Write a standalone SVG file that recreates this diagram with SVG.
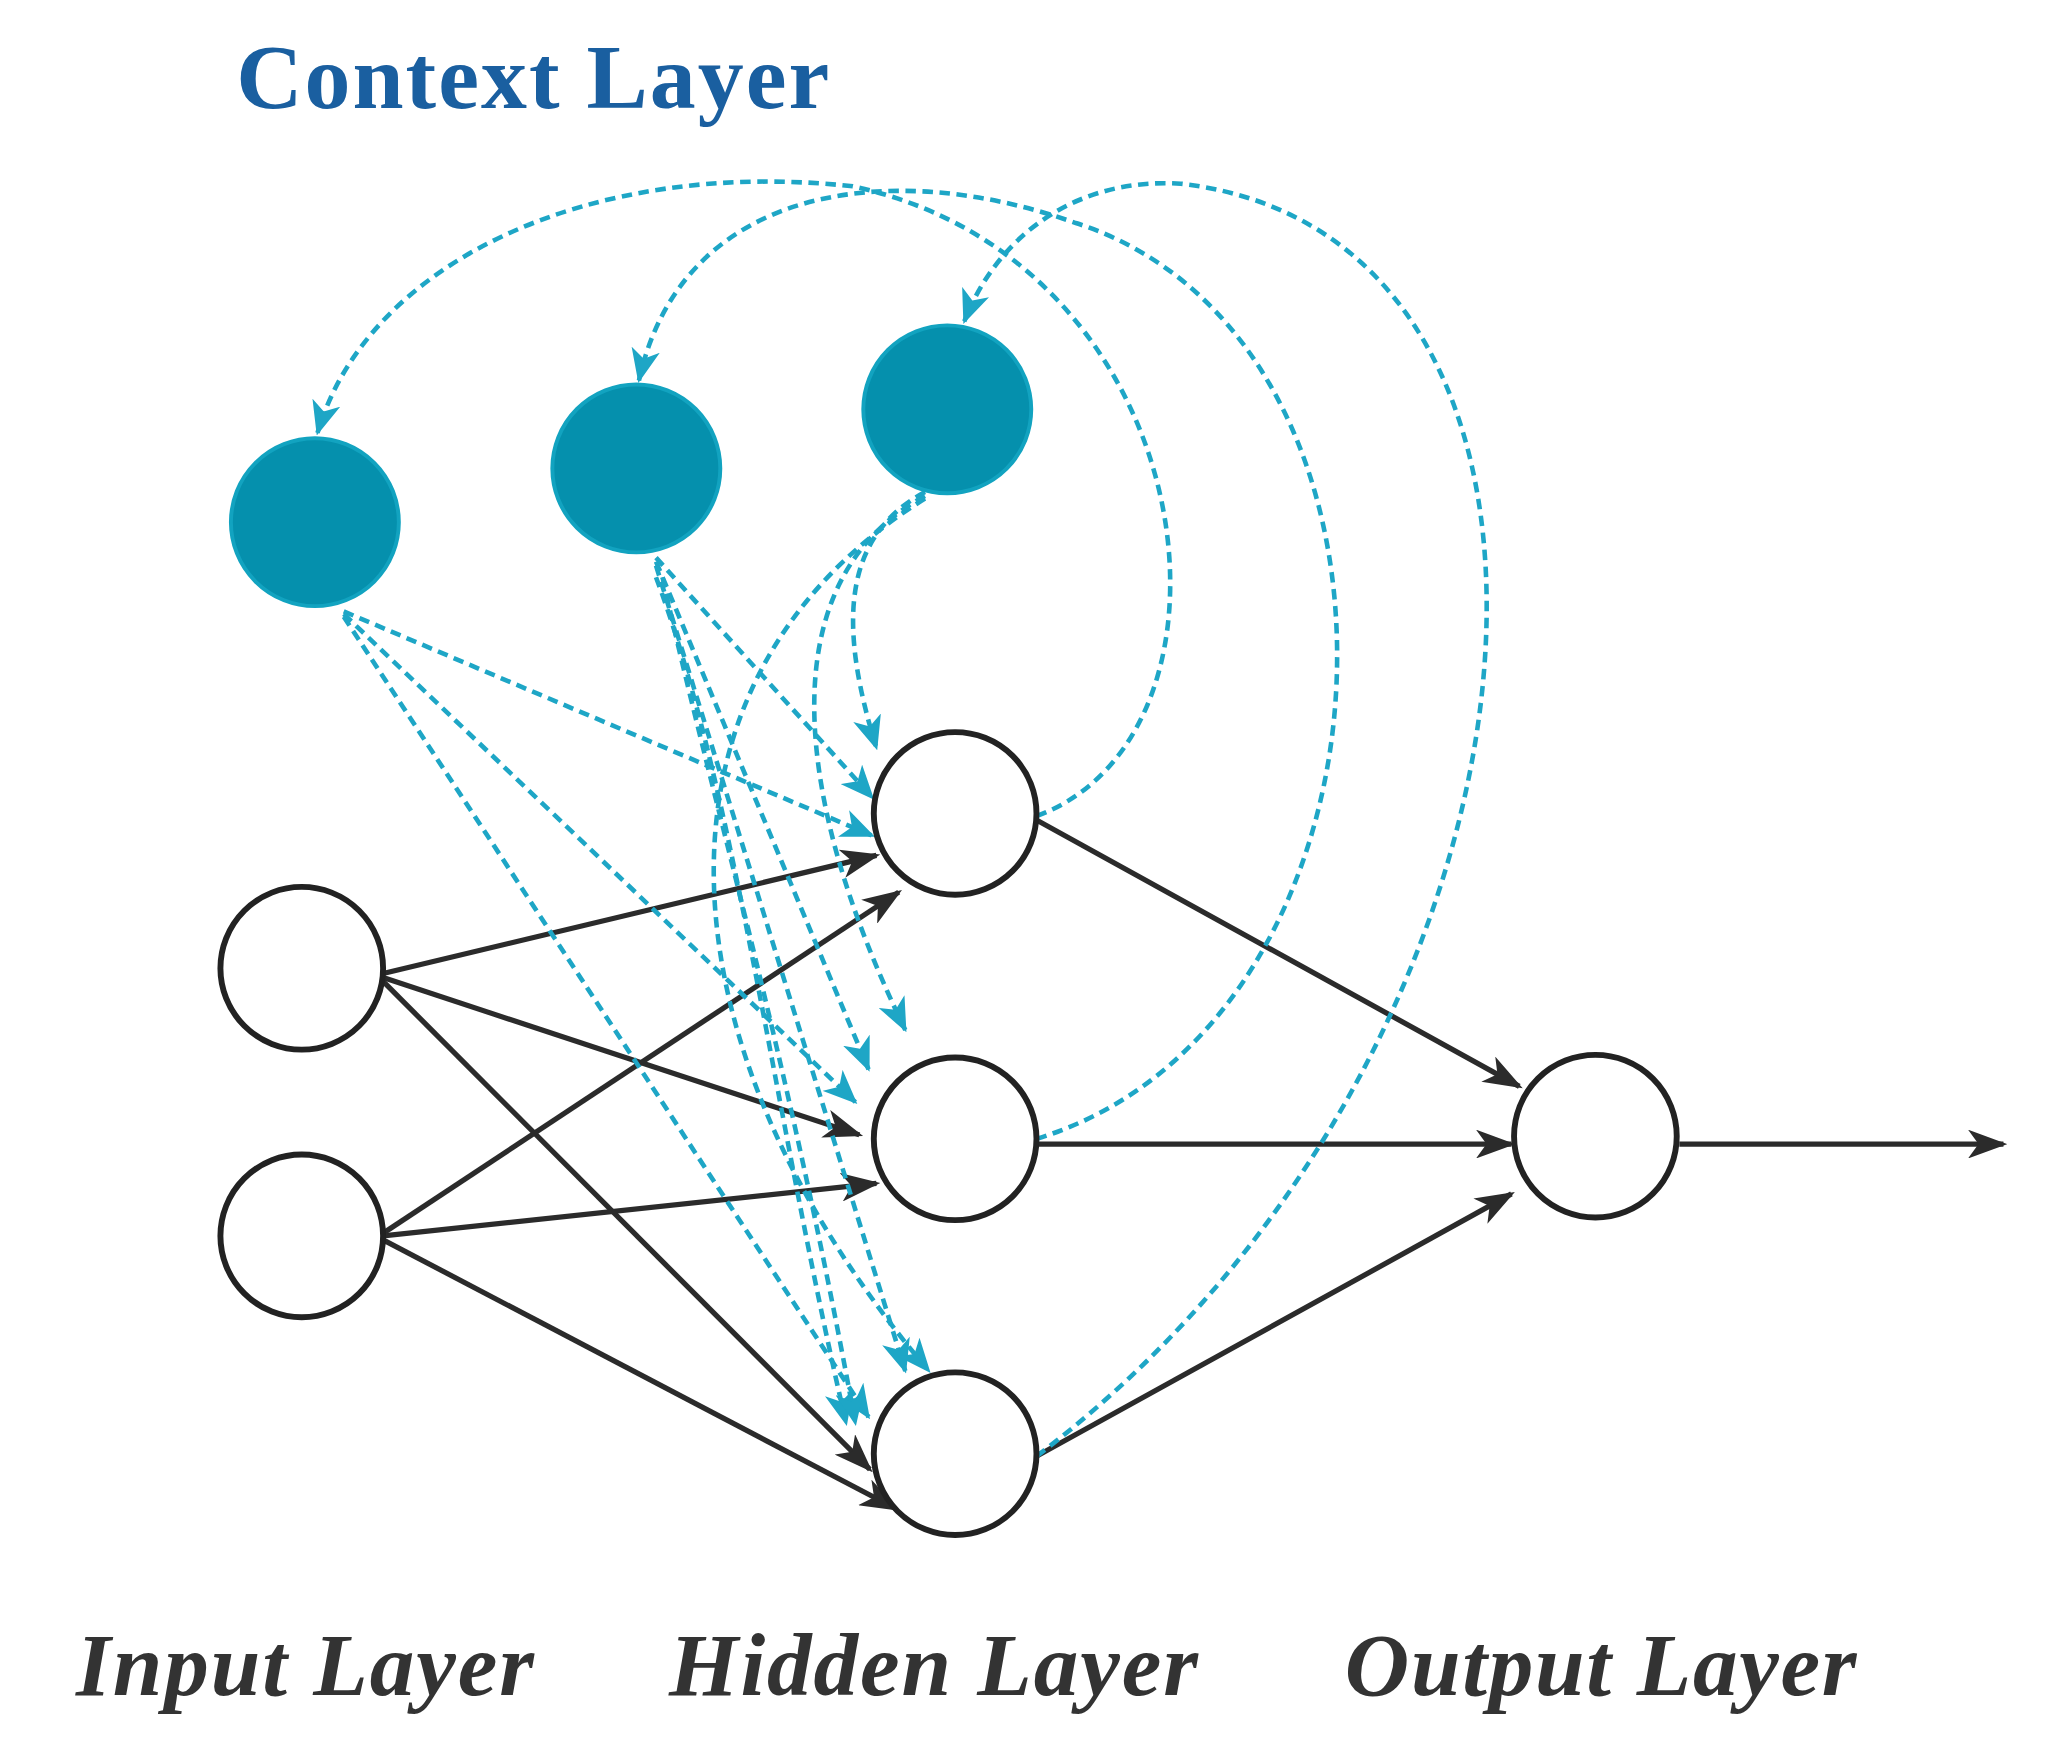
<svg xmlns="http://www.w3.org/2000/svg" width="2051" height="1761" viewBox="0 0 2051 1761">
<defs>
<style>
.ctx{fill:#0590ad;stroke:#12a3c0;stroke-width:3}
.nd{fill:#fff;stroke:#222;stroke-width:4.5}
.s{fill:none;stroke:#2b2b2b;stroke-width:4;marker-end:url(#ab)}
.d{fill:none;stroke:#1ea6c6;stroke-width:3.5;stroke-dasharray:8 5;marker-end:url(#ac)}
.lb{font-family:"Liberation Serif",serif;font-weight:bold;font-style:italic;font-size:68px;fill:#333}
</style>
<marker id="ab" viewBox="0 0 30 22" refX="27" refY="11" markerWidth="30" markerHeight="22" markerUnits="userSpaceOnUse" orient="auto"><path d="M0,0 L30,11 L0,22 L8,11 Z" fill="#2b2b2b"/></marker>
<marker id="ac" viewBox="0 0 26 22" refX="24" refY="11" markerWidth="26" markerHeight="22" markerUnits="userSpaceOnUse" orient="auto"><path d="M0,0 L26,11 L0,22 L7,11 Z" fill="#1ea6c6"/></marker>
</defs>
<g transform="scale(1.312)">
<text x="180" y="82" font-family="Liberation Serif,serif" font-weight="bold" font-size="70" fill="#1a5fa0" textLength="452">Context Layer</text>
<g id="connectors">
<path class="s" d="M292,742 L668,652"/>
<path class="s" d="M292,745 L655,865"/>
<path class="s" d="M292,748 L663,1120"/>
<path class="s" d="M292,940 L685,680"/>
<path class="s" d="M292,942 L668,902"/>
<path class="s" d="M292,945 L683,1150"/>
<path class="s" d="M790,625 L1158,828"/>
<path class="s" d="M790,872 L1152,872"/>
<path class="s" d="M790,1110 L1152,910"/>
<path class="s" d="M1280,872 L1527,872"/>
<path class="d" d="M262,466 L665,637"/>
<path class="d" d="M262,468 L652,840"/>
<path class="d" d="M262,470 L662,1080"/>
<path class="d" d="M500,425 L665,608"/>
<path class="d" d="M500,428 L662,815"/>
<path class="d" d="M500,431 L690,1045"/>
<path class="d" d="M705,375 C640,410 640,480 668,570"/>
<path class="d" d="M705,378 C590,440 600,600 690,785"/>
<path class="d" d="M705,380 C480,520 500,800 708,1045"/>
<path class="d" d="M500,440 C560,600 590,850 645,1085"/>
<path class="d" d="M505,440 C540,600 600,800 652,1085"/>
<path class="d" d="M790,622 C960,560 920,200 650,142 C450,120 280,200 242,330"/>
<path class="d" d="M790,868 C1080,780 1100,260 820,170 C680,120 520,140 487,290"/>
<path class="d" d="M790,1110 C1200,800 1250,180 900,140 C820,135 760,180 735,245"/>
</g>
<g id="ctx1"><circle class="ctx" cx="240" cy="398" r="64"/></g>
<g id="ctx2"><circle class="ctx" cx="485" cy="357" r="64"/></g>
<g id="ctx3"><circle class="ctx" cx="722" cy="312" r="64"/></g>
<g id="in1"><circle class="nd" cx="230" cy="738" r="62"/></g>
<g id="in2"><circle class="nd" cx="230" cy="942" r="62"/></g>
<g id="h1"><circle class="nd" cx="728" cy="620" r="62"/></g>
<g id="h2"><circle class="nd" cx="728" cy="868" r="62"/></g>
<g id="h3"><circle class="nd" cx="728" cy="1108" r="62"/></g>
<g id="out"><circle class="nd" cx="1216" cy="866" r="62"/></g>
<text class="lb" x="58" y="1292" textLength="349">Input Layer</text>
<text class="lb" x="510" y="1292" textLength="403">Hidden Layer</text>
<text class="lb" x="1025" y="1292" textLength="390">Output Layer</text>
</g>
</svg>
